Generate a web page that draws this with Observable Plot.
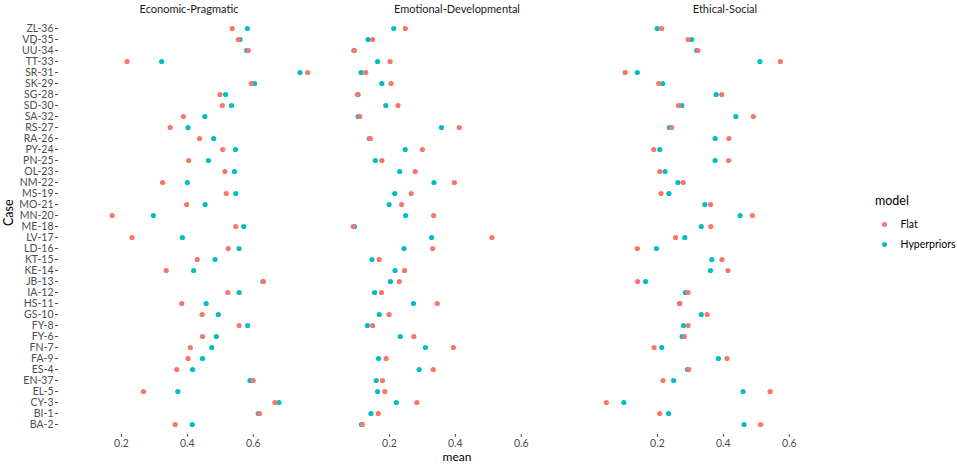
<!DOCTYPE html>
<html>
<head>
<meta charset="utf-8">
<script src="https://cdn.jsdelivr.net/npm/d3@7"></script>
<script src="https://cdn.jsdelivr.net/npm/@observablehq/plot@0.6"></script>
<style>
  body { margin: 0; background: #fff; font-family: Lato, "Noto Sans", sans-serif; }
  #wrap { position: relative; width: 957px; height: 466px; }
  #legend { position: absolute; left: 872px; top: 193px; font-family: Lato, sans-serif; color: #000; }
  #legend .title { font-size: 12.5px; margin-left: 3px; margin-bottom: 6px; }
  #legend .item { display: flex; align-items: center; height: 20px; font-size: 10.5px; }
  #legend .sw { width: 5px; height: 5px; border-radius: 50%; margin-left: 9.5px; margin-right: 14px; }
</style>
</head>
<body>
<div id="wrap"><div id="chart"></div><div id="legend"></div></div>
<script>
const cases = ["ZL-36","VD-35","UÚ-34","TT-33","SR-31","SK-29","SG-28","SD-30","SA-32","RS-27","RA-26","PY-24","PN-25","OL-23","NM-22","MS-19","MO-21","MN-20","ME-18","LV-17","LD-16","KT-15","KE-14","JB-13","IA-12","HS-11","GS-10","FY-8","FY-6","FN-7","FA-9","ES-4","EN-37","EL-5","CY-3","BI-1","BA-2"];
const dimensions = ["Economic-Pragmatic","Emotional-Developmental","Ethical-Social"];
const models = ["Flat","Hyperpriors"];
const xTicks = [0.2, 0.4, 0.6];

const econFlat  = [.536,.555,.585,.217,.765,.594,.499,.506,.388,.348,.437,.507,.404,.514,.325,.518,.398,.172,.547,.232,.524,.430,.336,.631,.523,.383,.445,.557,.446,.409,.402,.368,.600,.267,.666,.619,.363];
const econHyper = [.582,.560,.580,.322,.742,.604,.516,.534,.453,.402,.480,.546,.464,.543,.400,.547,.454,.297,.571,.385,.557,.484,.419,.629,.557,.457,.494,.583,.488,.474,.446,.416,.590,.371,.678,.615,.415];
const emoFlat   = [.248,.149,.092,.202,.128,.205,.103,.226,.110,.412,.142,.300,.177,.278,.397,.266,.237,.334,.090,.511,.331,.169,.246,.230,.176,.345,.199,.149,.274,.394,.190,.333,.179,.186,.283,.166,.118];
const emoHyper  = [.213,.135,.093,.164,.114,.177,.105,.189,.105,.358,.139,.248,.157,.231,.335,.216,.199,.249,.094,.328,.244,.147,.217,.203,.155,.273,.169,.133,.233,.309,.167,.290,.160,.164,.221,.144,.115];
const ethFlat   = [.213,.293,.323,.573,.102,.204,.395,.264,.491,.243,.417,.189,.416,.207,.278,.211,.361,.488,.362,.255,.139,.396,.414,.140,.293,.268,.351,.293,.282,.190,.411,.295,.217,.542,.045,.207,.513];
const ethHyper  = [.199,.304,.319,.511,.139,.216,.378,.274,.438,.236,.375,.207,.375,.223,.262,.235,.344,.451,.333,.283,.197,.365,.361,.164,.285,.267,.333,.279,.275,.213,.385,.291,.249,.460,.098,.234,.463];

const series = [
  [dimensions[0], "Hyperpriors", econHyper],
  [dimensions[1], "Hyperpriors", emoHyper],
  [dimensions[2], "Hyperpriors", ethHyper],
  [dimensions[0], "Flat", econFlat],
  [dimensions[1], "Flat", emoFlat],
  [dimensions[2], "Flat", ethFlat]
];
const table = series.flatMap(([dim, model, vals]) => vals.map((v, i) => ({dim, model, case: cases[i], mean: v})));

const colors = ["#F8766D", "#00BFC4"];

const chart = Plot.plot({
  width: 957,
  height: 466,
  marginLeft: 58,
  marginRight: 102,
  marginTop: 17,
  marginBottom: 32,
  style: {fontFamily: "Lato, 'Noto Sans', sans-serif", background: "#fff"},
  fx: {domain: dimensions, paddingInner: 0.0276, paddingOuter: 0},
  x: {domain: [0.009, 0.801]},
  y: {domain: cases, padding: 0.6},
  color: {domain: models, range: colors},
  marks: [
    Plot.axisFx({anchor: "top", tickSize: 0, tickPadding: 5, fontSize: 11, label: null, color: "#1a1a1a"}),
    Plot.axisX({ticks: xTicks, tickFormat: d3.format(".1f"), tickSize: 3, tickPadding: 2, fontSize: 10.5, label: null, color: "#4d4d4d"}),
    Plot.axisY({tickSize: 3, tickPadding: 2, fontSize: 10.5, label: null, color: "#4d4d4d"}),
    Plot.text([{dim: dimensions[0]}], {fx: "dim", frameAnchor: "left", text: () => "Case", rotate: -90, dx: -50, fontSize: 12.5, fill: "#000"}),
    Plot.text([{dim: dimensions[1]}], {fx: "dim", frameAnchor: "bottom", text: () => "mean", dy: 26, fontSize: 12, fill: "#000"}),
    Plot.dot(table, {x: "mean", y: "case", fx: "dim", fill: "model", r: 2.6, stroke: null})
  ]
});
document.getElementById("chart").appendChild(chart);

const legend = document.getElementById("legend");
legend.innerHTML = `<div class="title">model</div>` + models.map((m, i) =>
  `<div class="item"><span class="sw" style="background:${colors[i]}"></span><span>${m}</span></div>`).join("");
</script>
</body>
</html>
